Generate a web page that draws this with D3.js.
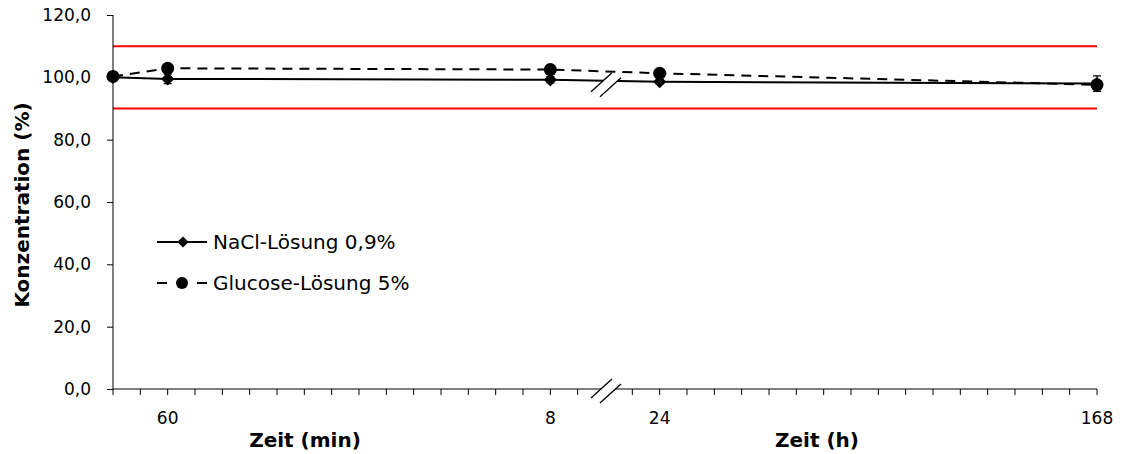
<!DOCTYPE html>
<html>
<head>
<meta charset="utf-8">
<script src="https://cdn.jsdelivr.net/npm/d3@7"></script>
<style>
    body { margin: 0; background: #fff; }
    svg text { font-family: "DejaVu Sans", Verdana, sans-serif; fill: #000; }
</style>
</head>
<body>
<svg id="chart" width="1122" height="454"></svg>
<script>
// time in minutes
const times = [0, 60, 480, 1440, 10080]
const naclValues = [100.0, 99.5, 99.2, 98.6, 98.0]
const naclErrors = [0.3, 1.5, 1.0, 0.6, 2.5]
const glucoseValues = [100.3, 102.9, 102.5, 101.3, 97.6]
const glucoseErrors = [0.3, 1.0, 0.6, 0.6, 1.2]
const limits = [110, 90]
const yTicks = [0, 20, 40, 60, 80, 100, 120]
const xLabelTimes = [60, 480, 1440, 10080]
const xLabels = ["60", "8", "24", "168"]
const seriesNames = ["NaCl-Lösung 0,9%", "Glucose-Lösung 5%"]

const plotLeft = 113, plotRight = 1097, plotTop = 15, plotBottom = 389
const breakX = 605

const svg = d3.select("#chart")

const y = d3.scaleLinear().domain([0, 120]).range([plotBottom, plotTop])
// minutes part up to the break, hours part after it
const xMin = d3.scaleLinear().domain([0, 540]).range([plotLeft, breakX])
const xHour = d3.scaleLinear().domain([6, 168]).range([breakX, plotRight])
function x(t) {
    return t <= 540 ? xMin(t) : xHour(t / 60)
}

// red limit lines
svg.selectAll(".limit")
    .data(limits)
    .enter()
    .append("line")
    .attr("x1", plotLeft).attr("x2", plotRight)
    .attr("y1", d => y(d)).attr("y2", d => y(d))
    .attr("stroke", "#ff0000")
    .attr("stroke-width", 2)

// y axis
const yAxis = d3.axisLeft(y)
    .tickValues(yTicks)
    .tickSize(6)
    .tickFormat(d => d3.format(".1f")(d).replace(".", ","))
const gy = svg.append("g").attr("transform", "translate(" + plotLeft + ",0)").call(yAxis)
gy.selectAll("text").style("font-size", "17px").attr("x", -22)
gy.select(".domain").attr("d", "M0," + plotTop + "V" + plotBottom)

// x axis, ticks every 30 min / 9 h
const minTicks = d3.range(0, 541, 30)
const hourTicks = d3.range(15, 169, 9)
const gx = svg.append("g")
gx.append("line")
    .attr("x1", plotLeft).attr("x2", plotRight)
    .attr("y1", plotBottom).attr("y2", plotBottom)
    .attr("stroke", "#000")
gx.selectAll(".tickm")
    .data(minTicks.map(d => xMin(d)).concat(hourTicks.map(d => xHour(d))))
    .enter()
    .append("line")
    .attr("x1", d => d).attr("x2", d => d)
    .attr("y1", plotBottom).attr("y2", plotBottom + 6)
    .attr("stroke", "#000")
gx.selectAll(".xlab")
    .data(xLabelTimes)
    .enter()
    .append("text")
    .attr("x", d => x(d))
    .attr("y", plotBottom + 35)
    .attr("text-anchor", "middle")
    .style("font-size", "17px")
    .text((d, i) => xLabels[i])

// axis titles
svg.append("text")
    .attr("transform", "translate(29,205) rotate(-90)")
    .attr("text-anchor", "middle")
    .style("font-size", "20px").style("font-weight", "bold")
    .text("Konzentration (%)")
svg.append("text")
    .attr("x", 305).attr("y", 447)
    .attr("text-anchor", "middle")
    .style("font-size", "20px").style("font-weight", "bold")
    .text("Zeit (min)")
svg.append("text")
    .attr("x", 817).attr("y", 447)
    .attr("text-anchor", "middle")
    .style("font-size", "20px").style("font-weight", "bold")
    .text("Zeit (h)")

const line = d3.line().x(d => x(d[0])).y(d => y(d[1]))

const diamond = d3.symbol().type(d3.symbolDiamond2).size(110)

function drawSeries(values, errors, dashed, marker) {
    const g = svg.append("g")
    const pts = times.map((t, i) => [t, values[i], errors[i]])
    g.append("path")
        .datum(pts)
        .attr("d", line)
        .attr("fill", "none")
        .attr("stroke", "#000")
        .attr("stroke-width", 2)
        .attr("stroke-dasharray", dashed ? "10,7" : null)
    // error bars
    g.selectAll(".err")
        .data(pts)
        .enter()
        .append("path")
        .attr("d", d => {
            const cx = x(d[0]), y1 = y(d[1] + d[2]), y2 = y(d[1] - d[2])
            return "M" + cx + "," + y1 + "V" + y2 +
                "M" + (cx - 4) + "," + y1 + "H" + (cx + 4) +
                "M" + (cx - 4) + "," + y2 + "H" + (cx + 4)
        })
        .attr("stroke", "#000")
        .attr("stroke-width", 1.2)
        .attr("fill", "none")
    if (marker === "circle") {
        g.selectAll(".pt")
            .data(pts)
            .enter()
            .append("circle")
            .attr("cx", d => x(d[0])).attr("cy", d => y(d[1]))
            .attr("r", 6.5)
            .attr("fill", "#000")
    } else {
        g.selectAll(".pt")
            .data(pts)
            .enter()
            .append("path")
            .attr("d", diamond)
            .attr("transform", d => "translate(" + x(d[0]) + "," + y(d[1]) + ")")
            .attr("fill", "#000")
    }
}

drawSeries(glucoseValues, glucoseErrors, true, "circle")
drawSeries(naclValues, naclErrors, false, "diamond")

// axis break marks
function breakMark(cy) {
    const g = svg.append("g")
    g.append("path")
        .attr("d", "M" + (breakX - 14) + "," + (cy + 10) + "L" + (breakX + 7) + "," + (cy - 9) +
            "L" + (breakX + 16) + "," + (cy - 4) + "L" + (breakX - 5) + "," + (cy + 15) + "Z")
        .attr("fill", "#fff")
    g.append("line")
        .attr("x1", breakX - 14).attr("y1", cy + 10)
        .attr("x2", breakX + 7).attr("y2", cy - 9)
        .attr("stroke", "#000").attr("stroke-width", 1.3)
    g.append("line")
        .attr("x1", breakX - 5).attr("y1", cy + 15)
        .attr("x2", breakX + 16).attr("y2", cy - 4)
        .attr("stroke", "#000").attr("stroke-width", 1.3)
}
breakMark(plotBottom - 1)
breakMark(y(98.6))

// legend
const legend = svg.append("g").attr("transform", "translate(157,242)")
legend.append("line")
    .attr("x1", 0).attr("x2", 50).attr("y1", 0).attr("y2", 0)
    .attr("stroke", "#000").attr("stroke-width", 2)
legend.append("path")
    .attr("d", d3.symbol().type(d3.symbolDiamond2).size(80))
    .attr("transform", "translate(26,0)")
legend.append("text")
    .attr("x", 56).attr("y", 7)
    .style("font-size", "20px")
    .text(seriesNames[0])
legend.append("line")
    .attr("x1", 0).attr("x2", 50).attr("y1", 41).attr("y2", 41)
    .attr("stroke", "#000").attr("stroke-width", 2)
    .attr("stroke-dasharray", "10,10")
legend.append("circle")
    .attr("cx", 25).attr("cy", 41).attr("r", 6)
legend.append("text")
    .attr("x", 56).attr("y", 48)
    .style("font-size", "20px")
    .text(seriesNames[1])
</script>
</body>
</html>
